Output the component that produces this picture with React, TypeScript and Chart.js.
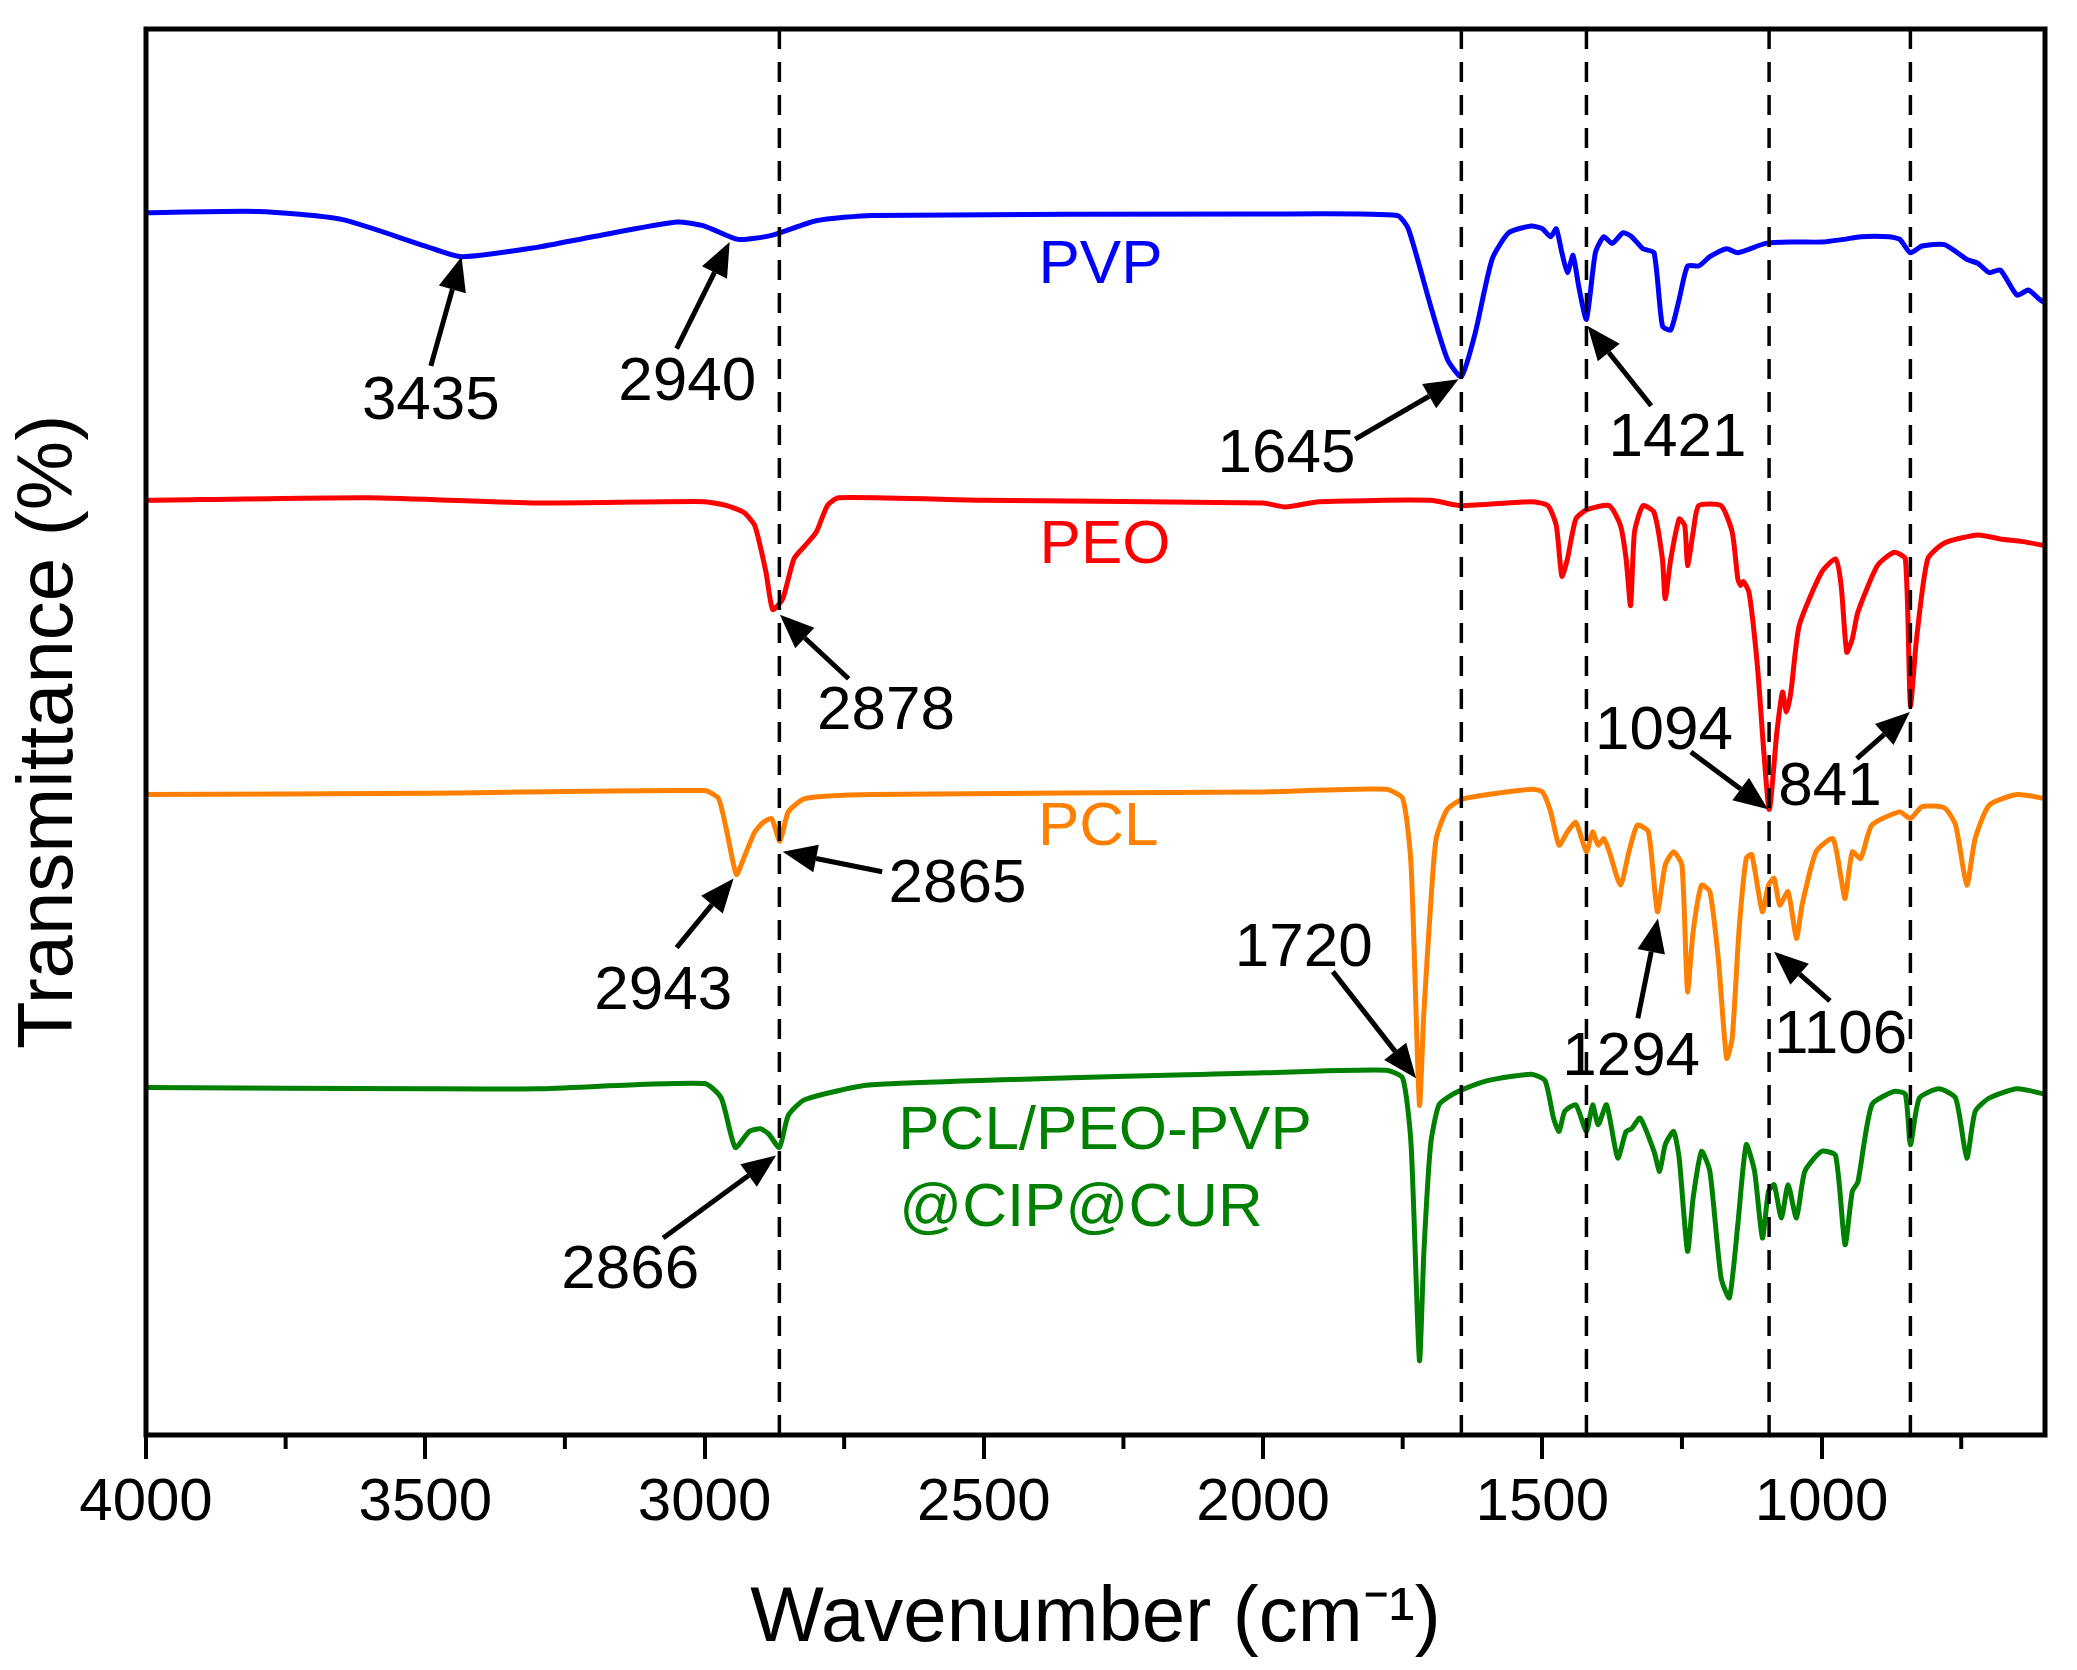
import React, { useEffect, useRef } from "react";
import { Chart, registerables } from "chart.js";
Chart.register(...registerables);

// y values are the depth (downward offset) of each trace
const pvpX = [4000,3800,3650,3500,3435,3300,3200,3050,3000,2940,2880,2800,2700,2000,1760,1740,1700,1670,1645,1620,1590,1560,1520,1500,1485,1475,1465,1455,1445,1435,1421,1405,1390,1375,1355,1340,1320,1300,1285,1270,1255,1240,1220,1200,1170,1150,1100,1050,1000,960,930,880,860,841,820,780,740,720,700,680,650,630,610,600];
const pvpY = [160,159,165,185,193,186,178,167,170,180,177,166,162,161,162,172,230,270,283,250,195,175,170,172,178,172,190,205,192,215,240,190,178,183,175,178,187,190,245,248,225,200,200,193,187,190,183,182,182,180,178,178,180,190,185,184,195,198,205,203,222,218,225,228];

const peoX = [4000,3600,3300,3000,2960,2930,2910,2890,2878,2860,2840,2820,2800,2780,2760,2500,2000,1960,1900,1700,1645,1520,1490,1475,1465,1455,1440,1420,1380,1360,1350,1342,1335,1320,1300,1285,1280,1270,1255,1245,1240,1230,1220,1180,1160,1150,1145,1140,1130,1115,1094,1080,1070,1063,1055,1040,1000,975,965,955,945,935,900,870,850,841,830,810,780,720,680,640,600];
const peoY = [376,374,378,377,380,385,395,430,458,450,420,410,400,380,374,376,378,381,377,376,380,377,380,395,433,420,390,383,380,395,420,455,400,380,385,420,450,420,390,395,425,400,380,380,400,435,440,437,445,500,608,550,520,535,520,470,430,420,440,490,480,460,425,415,420,530,480,420,408,402,405,407,410];

const pclX = [4000,3500,3000,2975,2960,2943,2930,2910,2895,2880,2865,2850,2820,2700,2000,1780,1750,1735,1720,1712,1700,1690,1670,1640,1520,1500,1485,1470,1455,1440,1421,1410,1400,1390,1380,1360,1345,1330,1310,1294,1280,1265,1250,1240,1230,1215,1200,1185,1170,1160,1148,1135,1125,1106,1095,1085,1075,1060,1045,1035,1010,980,965,958,945,930,910,860,841,820,780,760,740,725,700,650,600];
const pclY = [597,596,594,600,625,657,645,625,618,615,632,610,600,597,595,593,600,650,830,760,680,630,608,600,593,595,610,635,625,618,640,625,635,630,640,665,640,620,625,685,650,640,650,745,700,665,670,720,795,780,700,645,642,685,665,660,680,670,705,680,640,630,660,675,640,645,620,610,615,606,607,620,665,630,605,597,600];

const mixX = [4000,3500,3300,3000,2970,2945,2920,2900,2885,2866,2850,2820,2700,2000,1780,1750,1735,1720,1712,1700,1685,1660,1640,1600,1520,1495,1480,1470,1460,1440,1421,1410,1400,1385,1365,1350,1340,1325,1300,1290,1280,1265,1255,1240,1230,1215,1200,1180,1165,1150,1135,1120,1106,1095,1085,1072,1060,1045,1030,1000,975,958,945,935,910,870,850,841,825,790,760,740,725,700,650,600];
const mixY = [817,818,818,814,825,862,850,848,852,862,838,826,815,806,804,810,860,1022,940,860,830,822,818,812,807,812,840,850,835,830,850,830,845,830,870,850,848,840,865,880,860,850,870,940,900,865,880,960,975,920,860,880,930,895,890,915,890,915,880,865,868,935,895,888,830,820,822,860,825,818,825,870,835,825,818,822];

const dashWN = [2866,1645,1421,1094,841];
const xTicks = [4000,3500,3000,2500,2000,1500,1000];
const xMinor = [3750,3250,2750,2250,1750,1250,750];

const annText = ["3435","2940","1645","1421","2878","1094","841","2865","2943","1720","1294","1106","2866"];
const annTX = [3490,3031,1958,1258,2675,1282,985,2547,3074,1927,1341,966,3133];
const annTY = [302,288,342,330,535,550,592,665,745,713,795,778,955];
const annAX = [3490,3050,1835,1305,2742,1234,937,2682,3050,1875,1329,985,3074];
const annAY = [275,262,330,305,510,565,570,655,712,730,765,752,930];
const annBX = [3435,2955,1650,1419,2865,1096,842,2860,2948,1726,1293,1085,2872];
const annBY = [193,182,285,245,462,608,535,640,660,810,690,715,868];

const lblText = ["PVP","PEO","PCL","PCL/PEO-PVP","@CIP@CUR"];
const lblX = [2291,2283,2295,2283,2326];
const lblY = [200,410,622,850,908];
const lblColor = ["#0000ff","#ff0000","#ff8000","#008000","#008000"];

const FONT = "'Liberation Sans', Arial, sans-serif";
const toPts = (xs: number[], ys: number[]) => xs.map((x, i) => ({ x, y: ys[i] }));

const overlay = {
  id: "overlay",
  afterDatasetsDraw(chart: any) {
    const { ctx, chartArea: a, scales } = chart;
    const xs = scales.x, ys = scales.y;
    ctx.save();
    ctx.strokeStyle = "#000";
    ctx.lineWidth = 3.5;
    ctx.setLineDash([20, 13]);
    dashWN.forEach((w) => {
      const px = xs.getPixelForValue(w);
      ctx.beginPath();
      ctx.moveTo(px, a.top);
      ctx.lineTo(px, a.bottom);
      ctx.stroke();
    });
    ctx.setLineDash([]);
    ctx.fillStyle = "#000";
    ctx.lineWidth = 5;
    annText.forEach((t, i) => {
      const x1 = xs.getPixelForValue(annAX[i]), y1 = ys.getPixelForValue(annAY[i]);
      const x2 = xs.getPixelForValue(annBX[i]), y2 = ys.getPixelForValue(annBY[i]);
      const ang = Math.atan2(y2 - y1, x2 - x1);
      const hl = 34, hw = 14;
      const bx = x2 - hl * Math.cos(ang), by = y2 - hl * Math.sin(ang);
      ctx.beginPath();
      ctx.moveTo(x1, y1);
      ctx.lineTo(bx, by);
      ctx.stroke();
      ctx.beginPath();
      ctx.moveTo(x2, y2);
      ctx.lineTo(bx + hw * Math.sin(ang), by - hw * Math.cos(ang));
      ctx.lineTo(bx - hw * Math.sin(ang), by + hw * Math.cos(ang));
      ctx.closePath();
      ctx.fill();
      ctx.font = `62px ${FONT}`;
      ctx.textAlign = "center";
      ctx.textBaseline = "middle";
      ctx.fillText(t, xs.getPixelForValue(annTX[i]), ys.getPixelForValue(annTY[i]));
    });
    lblText.forEach((t, i) => {
      ctx.fillStyle = lblColor[i];
      ctx.font = `62px ${FONT}`;
      ctx.textAlign = "center";
      ctx.textBaseline = "middle";
      ctx.fillText(t, xs.getPixelForValue(lblX[i]), ys.getPixelForValue(lblY[i]));
    });
    ctx.strokeStyle = "#000";
    ctx.lineWidth = 4;
    xMinor.forEach((w) => {
      const px = xs.getPixelForValue(w);
      ctx.beginPath();
      ctx.moveTo(px, a.bottom);
      ctx.lineTo(px, a.bottom + 14);
      ctx.stroke();
    });
    ctx.lineWidth = 5;
    ctx.strokeRect(a.left, a.top, a.right - a.left, a.bottom - a.top);
    ctx.restore();
  },
};

export default function App() {
  const ref = useRef<HTMLCanvasElement>(null);
  useEffect(() => {
    const c = new Chart(ref.current!, {
      type: "line",
      data: {
        datasets: [
          { data: toPts(pvpX, pvpY), borderColor: "#0000ff" },
          { data: toPts(peoX, peoY), borderColor: "#ff0000" },
          { data: toPts(pclX, pclY), borderColor: "#ff8000" },
          { data: toPts(mixX, mixY), borderColor: "#008000" },
        ].map((d) => ({ ...d, borderWidth: 5, pointRadius: 0, tension: 0.2, fill: false })),
      },
      options: {
        animation: false,
        responsive: false,
        devicePixelRatio: 1,
        layout: { padding: { top: 29, right: 32, left: 0, bottom: 0 } },
        plugins: { legend: { display: false }, tooltip: { enabled: false } },
        scales: {
          x: {
            type: "linear",
            min: 600,
            max: 4000,
            reverse: true,
            afterBuildTicks: (s: any) => { s.ticks = xTicks.map((v) => ({ value: v })); },
            afterFit: (s: any) => { s.height = 235; },
            grid: { drawOnChartArea: false, tickLength: 24, lineWidth: 4, color: "#000" },
            border: { display: false },
            ticks: { color: "#000", font: { family: FONT, size: 60 }, padding: 8, maxRotation: 0, callback: (v: any) => String(v) },
            title: { display: true, text: "Wavenumber (cm⁻¹)", color: "#000", font: { family: FONT, size: 78 }, padding: { top: 22 } },
          },
          y: {
            min: 22,
            max: 1078,
            reverse: true,
            afterFit: (s: any) => { s.width = 146; },
            grid: { display: false },
            border: { display: false },
            ticks: { display: false },
            title: { display: true, text: "Transmittance (%)", color: "#000", font: { family: FONT, size: 78 }, padding: { bottom: 10 } },
          },
        },
      },
      plugins: [overlay],
    } as any);
    return () => c.destroy();
  }, []);
  return (
    <div style={{ position: "absolute", left: 0, top: 0, width: 2077, height: 1670, background: "#fff" }}>
      <canvas ref={ref} width={2077} height={1670} style={{ width: 2077, height: 1670 }} />
    </div>
  );
}
